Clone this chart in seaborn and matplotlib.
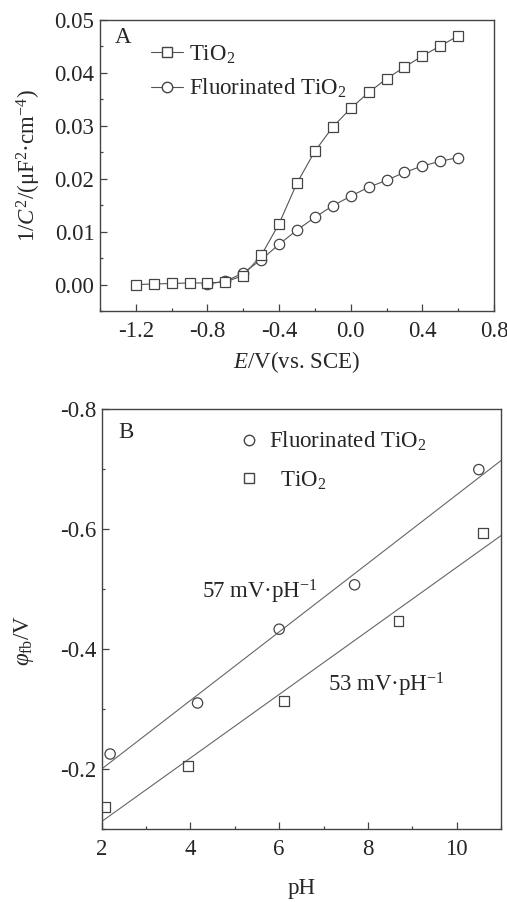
import numpy as np
import pandas as pd
import seaborn as sns
import matplotlib
matplotlib.use("Agg")
import matplotlib.pyplot as plt
from matplotlib.ticker import MultipleLocator, FormatStrFormatter
from matplotlib.lines import Line2D

# Panel A: Mott-Schottky data
e_tio2 = [-1.2, -1.1, -1.0, -0.9, -0.8, -0.7, -0.6, -0.5, -0.4, -0.3,
          -0.2, -0.1, 0.0, 0.1, 0.2, 0.3, 0.4, 0.5, 0.6]
c_tio2 = [0.0000, 0.0001, 0.0002, 0.0003, 0.0003, 0.0005, 0.0017, 0.0055, 0.0115, 0.0192,
          0.0252, 0.0298, 0.0333, 0.0363, 0.0389, 0.0411, 0.0432, 0.0451, 0.0470]
e_ftio2 = [-0.8, -0.7, -0.6, -0.5, -0.4, -0.3, -0.2, -0.1, 0.0, 0.1, 0.2, 0.3, 0.4, 0.5, 0.6]
c_ftio2 = [0.0001, 0.0006, 0.0022, 0.0047, 0.0076, 0.0103, 0.0127, 0.0149, 0.0167,
           0.0184, 0.0197, 0.0212, 0.0224, 0.0233, 0.0240]

# Panel B: flat band potential vs pH
ph_ftio2 = [2.19, 4.16, 6.00, 7.70, 10.50]
fb_ftio2 = [-0.225, -0.310, -0.433, -0.507, -0.699]
ph_tio2 = [2.07, 3.95, 6.10, 8.69, 10.59]
fb_tio2 = [-0.137, -0.2055, -0.314, -0.446, -0.593]

sns.set_style("ticks")
plt.rcParams["font.family"] = ["Liberation Serif", "DejaVu Serif"]
plt.rcParams["mathtext.fontset"] = "custom"
plt.rcParams["mathtext.rm"] = "Liberation Serif"
plt.rcParams["mathtext.it"] = "Liberation Serif:italic"
plt.rcParams["mathtext.sf"] = "Liberation Serif"
plt.rcParams["axes.unicode_minus"] = False

FS = 16.5
EDGE = "#444444"

fig = plt.figure(figsize=(5.07, 9.02), dpi=100)
W, H = 507, 902
ax1 = fig.add_axes([100 / W, 1 - 311 / H, 394 / W, 291 / H])
ax2 = fig.add_axes([101.7 / W, 1 - 829 / H, 399.3 / W, 420 / H])

# ---- Panel A ----
sns.lineplot(x=e_tio2, y=c_tio2, ax=ax1, color="#555555", lw=0.8, marker="s",
             markersize=7, markerfacecolor="white", markeredgecolor=EDGE,
             markeredgewidth=0.9, zorder=3)
sns.lineplot(x=e_ftio2, y=c_ftio2, ax=ax1, color="#555555", lw=0.8, marker="o",
             markersize=7.5, markerfacecolor="white", markeredgecolor=EDGE,
             markeredgewidth=0.9, zorder=2)
ax1.set_xlim(-1.4, 0.8)
ax1.set_ylim(-0.005, 0.05)
ax1.xaxis.set_major_locator(MultipleLocator(0.4))
ax1.xaxis.set_minor_locator(MultipleLocator(0.2))
ax1.yaxis.set_major_locator(MultipleLocator(0.01))
ax1.yaxis.set_minor_locator(MultipleLocator(0.005))
ax1.xaxis.set_major_formatter(FormatStrFormatter("%.1f"))
ax1.yaxis.set_major_formatter(FormatStrFormatter("%.2f"))
ax1.set_xlabel(r"$E$/V(vs. SCE)", fontsize=FS)
ax1.set_ylabel(r"1/$C^{2}$/(μF$^{2}$·cm$^{-4}$)", fontsize=FS)
ax1.xaxis.set_label_coords(0.5, -0.13)
ax1.yaxis.set_label_coords(-0.145, 0.5)
ax1.text(0.058, 0.94, "A", transform=ax1.transAxes, fontsize=FS, va="center", ha="center")
h1 = [Line2D([], [], color="#555555", lw=0.8, marker="s", ms=7, mfc="white", mec=EDGE),
      Line2D([], [], color="#555555", lw=0.8, marker="o", ms=7.5, mfc="white", mec=EDGE)]
ax1.legend(h1, [r"TiO$_2$", r"Fluorinated TiO$_2$"], loc="upper left",
           bbox_to_anchor=(0.13, 0.92), frameon=False, fontsize=FS,
           handlelength=1.4, handletextpad=0.25, borderpad=0, borderaxespad=0,
           labelspacing=0.5)

# ---- Panel B ----
ax2.set_xlim(2, 11)
sns.regplot(x=ph_ftio2, y=fb_ftio2, ax=ax2, ci=None, scatter=False, truncate=False,
            line_kws=dict(color="#666666", lw=0.8))
sns.regplot(x=ph_tio2, y=fb_tio2, ax=ax2, ci=None, scatter=False, truncate=False,
            line_kws=dict(color="#666666", lw=0.8))
sns.scatterplot(x=ph_ftio2, y=fb_ftio2, ax=ax2, marker="o", s=55,
                facecolor="none", edgecolor=EDGE, linewidth=0.9, zorder=3)
sns.scatterplot(x=ph_tio2, y=fb_tio2, ax=ax2, marker="s", s=50,
                facecolor="none", edgecolor=EDGE, linewidth=0.9, zorder=3)
ax2.set_xlim(2, 11)
ax2.set_ylim(-0.1, -0.8)
ax2.xaxis.set_major_locator(MultipleLocator(2))
ax2.xaxis.set_minor_locator(MultipleLocator(1))
ax2.yaxis.set_major_locator(MultipleLocator(0.2))
ax2.yaxis.set_minor_locator(MultipleLocator(0.1))
ax2.yaxis.set_major_formatter(FormatStrFormatter("%.1f"))
ax2.set_yticks([-0.8, -0.6, -0.4, -0.2])
ax2.set_xlabel("pH", fontsize=FS)
ax2.set_ylabel(r"$\varphi_{\rm fb}$/V", fontsize=FS)
ax2.xaxis.set_label_coords(0.5, -0.117)
ax2.yaxis.set_label_coords(-0.165, 0.45)
ax2.text(0.06, 0.945, "B", transform=ax2.transAxes, fontsize=FS, va="center", ha="center")
ax2.text(4.25, -0.495, r"57 mV·pH$^{-1}$", fontsize=FS, va="center", ha="left")
ax2.text(7.10, -0.34, r"53 mV·pH$^{-1}$", fontsize=FS, va="center", ha="left")
h2 = [Line2D([], [], ls="none", marker="o", ms=7.5, mfc="none", mec=EDGE),
      Line2D([], [], ls="none", marker="s", ms=7, mfc="none", mec=EDGE)]
ax2.legend(h2, [r"Fluorinated TiO$_2$", r"  TiO$_2$"], loc="upper left",
           bbox_to_anchor=(0.345, 0.95), frameon=False, fontsize=FS,
           handlelength=0.8, handletextpad=0.5, borderpad=0, borderaxespad=0,
           labelspacing=0.7)

for ax in (ax1, ax2):
    for sp in ax.spines.values():
        sp.set_visible(True)
        sp.set_color(EDGE)
        sp.set_linewidth(1.0)
    ax.tick_params(which="both", direction="in", top=False, right=False,
                   color=EDGE, labelsize=FS)
    ax.tick_params(which="major", length=5, width=0.9)
    ax.tick_params(which="minor", length=2.5, width=0.9)
    ax.tick_params(axis="x", pad=7)
    ax.tick_params(axis="y", pad=4)

fig.savefig("out.png", dpi=100)
